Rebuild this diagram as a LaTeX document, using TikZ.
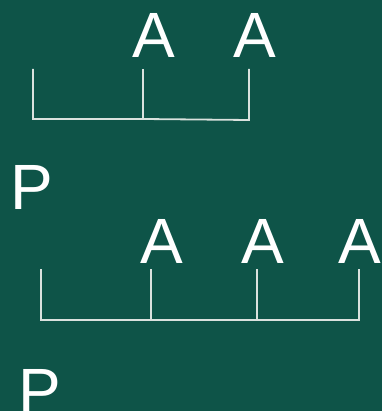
\documentclass[tikz,border=0pt]{standalone}
\usepackage{fontspec}
\setmainfont{Liberation Sans}
\definecolor{bg}{RGB}{14,84,72}
\definecolor{ln}{RGB}{218,226,222}
\begin{document}
\begin{tikzpicture}[x=1pt,y=-1pt,
  lbl/.style={text=white,inner sep=0pt,font=\fontsize{64}{64}\selectfont},
  brk/.style={draw=ln,line width=1.8pt,line cap=butt}]
\fill[bg] (0,0) rectangle (382,411);
\useasboundingbox (0,0) rectangle (382,411);
% top group
\node[lbl,anchor=base] (a1) at (154,58) {A};
\node[lbl,anchor=base] (a2) at (255,58) {A};
\node[lbl,anchor=base west] (p1) at (10,209) {P};
\coordinate (t1) at (33,69); \coordinate (b1) at (33,119);
\coordinate (t2) at (143,69); \coordinate (b2) at (143,119);
\coordinate (t3) at (249,69); \coordinate (b3) at (249,120);
\draw[brk] (t1) -- (b1) -- (b2) -- (b3) -- (t3);
\draw[brk] (t2) -- (b2);
% bottom group
\node[lbl,anchor=base] (a3) at (162,263) {A};
\node[lbl,anchor=base] (a4) at (263,263) {A};
\node[lbl,anchor=base] (a5) at (360,263) {A};
\node[lbl,anchor=base west] (p2) at (18,413) {P};
\coordinate (u1) at (41,269); \coordinate (v1) at (41,320);
\coordinate (u2) at (151,269); \coordinate (v2) at (151,320);
\coordinate (u3) at (257,269); \coordinate (v3) at (257,320);
\coordinate (u4) at (359,269); \coordinate (v4) at (359,320);
\draw[brk] (u1) -- (v1) -- (v4) -- (u4);
\draw[brk] (u2) -- (v2);
\draw[brk] (u3) -- (v3);
\end{tikzpicture}
\end{document}
